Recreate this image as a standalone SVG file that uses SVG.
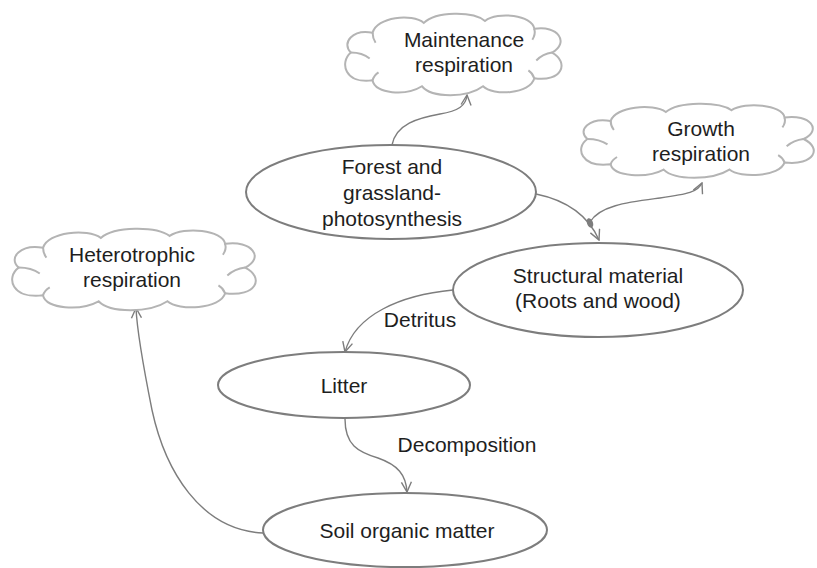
<svg xmlns="http://www.w3.org/2000/svg" xmlns:xlink="http://www.w3.org/1999/xlink" width="817" height="568" viewBox="0 0 817 568">
<style>
text{font-family:"Liberation Sans",Arial,Helvetica,sans-serif;font-size:21px;fill:#1e1e1e;text-anchor:middle}
.node{fill:#fff;stroke:#7d7d7d;stroke-width:2}
.cloud{fill:#fff;stroke:#b4b4b4;stroke-width:2;vector-effect:non-scaling-stroke}
.inner{fill:none;stroke:#b4b4b4;stroke-width:2;vector-effect:non-scaling-stroke}
.conn{fill:none;stroke:#7d7d7d;stroke-width:1.4}
</style>
<defs>
<marker id="arr" viewBox="0 0 12 12" refX="11" refY="6" markerWidth="12" markerHeight="12" markerUnits="userSpaceOnUse" orient="auto">
<path d="M1,1 L11,6 L1,11" fill="none" stroke="#7d7d7d" stroke-width="1.4"/>
</marker>
<g id="cloudShape">
<path class="cloud" d="M6,40 C-4,30 8,16 28,20 C32,4 68,0 80,10 C92,-2 130,-2 142,8 C155,-2 190,2 192,16 C216,12 228,30 210,40 C228,50 220,70 192,66 C188,82 150,84 140,74 C124,86 88,86 78,74 C62,84 30,82 28,68 C0,72 -6,50 6,40 Z"/>
<path class="inner" d="M6,40 C14,40 20,42 25,46"/>
<path class="inner" d="M210,40 C203,41 198,44 194,48"/>
<path class="inner" d="M28,20 C28,24 29,27 31,30"/>
<path class="inner" d="M192,16 C193,20 192,24 190,27"/>
<path class="inner" d="M192,66 C191,63 189,60 186,58"/>
<path class="inner" d="M28,68 C29,64 31,62 34,60"/>
</g>
</defs>
<g id="connectors">
<path class="conn" d="M392,145 C396,124 418,118 440,114 C458,111 466,106 467,95" marker-end="url(#arr)"/>
<path class="conn" d="M536,194 C565,200 588,215 599,240" marker-end="url(#arr)"/>
<path class="conn" d="M590,222 C600,205 630,202 660,198 C688,194 698,192 702,183" marker-end="url(#arr)"/>
<ellipse cx="590" cy="223" rx="3" ry="5" fill="#7d7d7d" transform="rotate(-20 590 223)"/>
<path class="conn" d="M453,290 C400,295 355,315 345,352" marker-end="url(#arr)"/>
<path class="conn" d="M345,419 C345,445 358,452 378,458 C398,465 406,475 407,492" marker-end="url(#arr)"/>
<path class="conn" d="M263,533 C200,530 165,470 152,410 C142,360 137,330 136,308" marker-end="url(#arr)"/>
<text x="420" y="327">Detritus</text>
<text x="467" y="452">Decomposition</text>
</g>
<g id="maintenance">
<use xlink:href="#cloudShape" transform="translate(345,13) scale(0.986,0.99)"/>
<text x="464" y="47">Maintenance</text>
<text x="464" y="72">respiration</text>
</g>
<g id="growth">
<use xlink:href="#cloudShape" transform="translate(581,103) scale(1.06,0.9)"/>
<text x="701" y="136">Growth</text>
<text x="701" y="161">respiration</text>
</g>
<g id="heterotrophic">
<use xlink:href="#cloudShape" transform="translate(12,228) scale(1.11,0.99)"/>
<text x="132" y="262">Heterotrophic</text>
<text x="132" y="287">respiration</text>
</g>
<g id="forest">
<ellipse class="node" cx="391" cy="192" rx="145" ry="47"/>
<text x="392" y="174">Forest and</text>
<text x="392" y="200">grassland-</text>
<text x="392" y="226">photosynthesis</text>
</g>
<g id="structural">
<ellipse class="node" cx="598" cy="290" rx="145" ry="47"/>
<text x="598" y="283">Structural material</text>
<text x="598" y="308">(Roots and wood)</text>
</g>
<g id="litter">
<ellipse class="node" cx="344" cy="385" rx="126" ry="33"/>
<text x="344" y="393">Litter</text>
</g>
<g id="soil">
<ellipse class="node" cx="405" cy="530" rx="142" ry="37"/>
<text x="407" y="538">Soil organic matter</text>
</g>
</svg>
